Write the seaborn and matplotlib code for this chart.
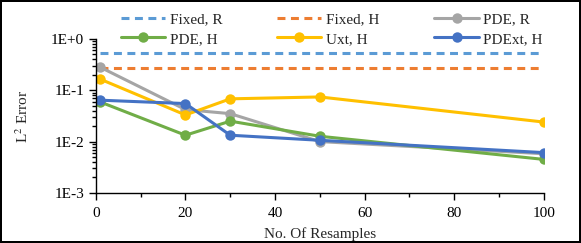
import numpy as np
import pandas as pd
import matplotlib
matplotlib.use("Agg")
import matplotlib.pyplot as plt
import matplotlib.ticker as mticker
import seaborn as sns

# data
resamples = [1, 20, 30, 50, 100]
fixed_r = [0.52, 0.52, 0.52, 0.52, 0.52]
fixed_h = [0.27, 0.27, 0.27, 0.27, 0.27]
pde_r = [0.28, 0.042, 0.035, 0.010, 0.0058]
pde_h = [0.059, 0.0133, 0.025, 0.0127, 0.0045]
uxt_h = [0.164, 0.033, 0.068, 0.074, 0.024]
pdext_h = [0.064, 0.055, 0.0133, 0.0106, 0.0061]

series = {
    "Fixed, R": fixed_r,
    "Fixed, H": fixed_h,
    "PDE, R": pde_r,
    "PDE, H": pde_h,
    "Uxt, H": uxt_h,
    "PDExt, H": pdext_h,
}
colors = {
    "Fixed, R": "#5B9BD5",
    "Fixed, H": "#ED7D31",
    "PDE, R": "#A5A5A5",
    "PDE, H": "#70AD47",
    "Uxt, H": "#FFC000",
    "PDExt, H": "#4472C4",
}

df = pd.concat(
    [pd.DataFrame({"x": resamples, "err": v, "series": k}) for k, v in series.items()],
    ignore_index=True,
)

sns.set_theme(style="ticks")
plt.rcParams["font.family"] = ["Liberation Serif", "DejaVu Serif"]
plt.rcParams["mathtext.fontset"] = "stix"

fig = plt.figure(figsize=(5.81, 2.43), dpi=100, linewidth=1.5, edgecolor="black")
ax = fig.add_axes([0.165, 0.206, 0.771, 0.634])

lw = 2.2
for name in ["Fixed, R", "Fixed, H"]:
    sns.lineplot(data=df[df.series == name], x="x", y="err", ax=ax,
                 color=colors[name], lw=lw, label=name, dashes=False)
    ax.lines[-1].set_dashes((2.6, 1.8))
for name in ["PDE, R", "PDE, H", "Uxt, H", "PDExt, H"]:
    sns.lineplot(data=df[df.series == name], x="x", y="err", ax=ax,
                 color=colors[name], lw=lw, marker="o", markersize=7.5,
                 markeredgewidth=0, label=name)

ax.set_yscale("log")
ax.set_ylim(1e-3, 1)
ax.set_xlim(0, 100)
ax.xaxis.set_major_locator(mticker.MultipleLocator(20))
ax.xaxis.set_minor_locator(mticker.MultipleLocator(10))
ax.yaxis.set_major_locator(mticker.LogLocator(base=10))
ax.yaxis.set_minor_locator(mticker.LogLocator(base=10, subs=np.arange(2, 10)))
ax.yaxis.set_minor_formatter(mticker.NullFormatter())
ax.yaxis.set_major_formatter(
    mticker.FuncFormatter(lambda v, p: "1E{:+d}".format(int(round(np.log10(v)))))
)
ax.tick_params(axis="both", which="major", direction="out", length=5, width=1,
               labelsize=11, color="black", labelcolor="black")
ax.tick_params(axis="x", which="major", pad=5)
ax.tick_params(axis="both", which="minor", direction="out", length=3, width=1,
               color="black")
for s in ["top", "right"]:
    ax.spines[s].set_visible(False)
for s in ["left", "bottom"]:
    ax.spines[s].set_color("black")
    ax.spines[s].set_linewidth(1)

ax.set_xlabel("No. Of Resamples", fontsize=11, labelpad=5)
ax.set_ylabel("L$^2$ Error", fontsize=11, labelpad=14)

h, l = ax.get_legend_handles_labels()
idx = {lab: i for i, lab in enumerate(l)}
order = ["Fixed, R", "PDE, H", "Fixed, H", "Uxt, H", "PDE, R", "PDExt, H"]
ax.legend([h[idx[o]] for o in order], order, ncol=3, frameon=False,
          fontsize=11, loc="upper center", bbox_to_anchor=(0.571, 1.0),
          bbox_transform=fig.transFigure, handlelength=2.9, handletextpad=0.3,
          columnspacing=3.6, labelspacing=0.4, borderpad=0.3)

fig.savefig("out.png", dpi=100)
